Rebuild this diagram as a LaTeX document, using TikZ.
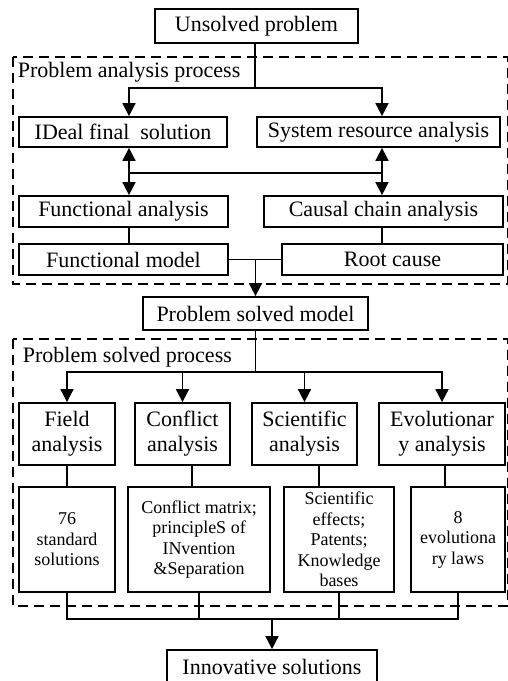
\documentclass[tikz,border=0pt]{standalone}
\usepackage{fontspec}
\setmainfont{Liberation Serif}
\usetikzlibrary{arrows.meta}

\begin{document}
\begin{tikzpicture}[x=1pt,y=-1pt,line width=1.8pt,
  box/.style={draw,line width=1.8pt,inner sep=0pt,align=center,font=\fontsize{22}{25}\selectfont},
  smallbox/.style={box,font=\fontsize{18}{20.5}\selectfont},
  frame/.style={draw,line width=1.5pt,dash pattern=on 10pt off 6pt},
  title/.style={anchor=base west,inner sep=0pt,font=\fontsize{22}{25}\selectfont},
  arr/.style={-{Triangle[width=13pt,length=13pt]}}]
\useasboundingbox (0,0) rectangle (507,681);
\draw[frame] (13,57) rectangle (508,284);
\draw[frame] (13,339) rectangle (508,606);
\node[title] (anatitle) at (17,77) {Problem analysis process};
\node[title] (soltitle) at (22,362) {Problem solved process};
\node[box,minimum width=203pt,minimum height=34pt] at (256.5,26) (unsolved) {Unsolved problem};
\node[box,minimum width=208pt,minimum height=30pt] at (123,132) (ideal) {IDeal final\ \ solution};
\node[box,minimum width=243pt,minimum height=30pt] at (378.5,132) (sysres) {System resource analysis};
\node[box,minimum width=209pt,minimum height=31pt] at (123.5,211.5) (funcana) {Functional analysis};
\node[box,minimum width=239pt,minimum height=31pt] at (383.5,211.5) (causal) {Causal chain analysis};
\node[box,minimum width=209pt,minimum height=31pt] at (123.5,259.5) (funcmodel) {Functional model};
\node[box,minimum width=221pt,minimum height=31pt] at (392.5,259.5) (rootcause) {Root cause};
\node[box,minimum width=225pt,minimum height=33pt] at (255.5,313.5) (psm) {Problem solved model};
\node[box,minimum width=96pt,minimum height=62pt] at (67,434) (field) {Field\\analysis};
\node[box,minimum width=95pt,minimum height=62pt] at (182.5,434) (conflict) {Conflict\\analysis};
\node[box,minimum width=105pt,minimum height=62pt] at (304.5,434) (scientific) {Scientific\\analysis};
\node[box,minimum width=126pt,minimum height=62pt] at (442,434) (evol) {Evolutionar\\y analysis};
\node[smallbox,minimum width=96pt,minimum height=105pt] at (67,539.5) (field2) {76\\standard\\solutions};
\node[smallbox,minimum width=142pt,minimum height=105pt] at (199,539.5) (conflict2) {Conflict matrix;\\principleS of\\INvention\\\&Separation};
\node[smallbox,minimum width=110pt,minimum height=105pt] at (339,539.5) (sci2) {Scientific\\effects;\\Patents;\\Knowledge\\bases};
\node[smallbox,minimum width=94pt,minimum height=105pt] at (458,539.5) (evol2) {8\\evolutiona\\ry laws};
\node[box,minimum width=210pt,minimum height=34pt] at (272,667) (innov) {Innovative solutions};
\coordinate (splitA) at (255,88);
\coordinate (jl) at (129,173);
\coordinate (jr) at (382,173);
\draw (unsolved.south -| splitA) -- (splitA);
\draw[arr] (splitA) -| (ideal.north -| jl);
\draw[arr] (splitA) -| (sysres.north -| jr);
\draw (jl) -- (jr);
\draw[arr] (jl) -- (ideal.south -| jl);
\draw[arr] (jl) -- (funcana.north -| jl);
\draw[arr] (jr) -- (sysres.south -| jr);
\draw[arr] (jr) -- (causal.north -| jr);
\draw (funcana.south -| jl) -- (funcmodel.north -| jl);
\draw (causal.south -| jr) -- (rootcause.north -| jr);
\draw (funcmodel) -- (rootcause);
\draw[arr] (funcmodel.east -| psm.north) -- (psm.north);
\coordinate (splitB) at (255.5,372);
\draw (psm.south) -- (splitB);
\foreach \n in {field,conflict,scientific,evol}
  \draw[arr] (splitB) -| (\n.north);
\coordinate (tieA) at (67,476);
\coordinate (tieB) at (192,476);
\coordinate (tieC) at (319,476);
\coordinate (tieD) at (445,476);
\foreach \a/\b/\t in {field/field2/tieA,conflict/conflict2/tieB,scientific/sci2/tieC,evol/evol2/tieD}
  \draw (\a.south -| \t) -- (\b.north -| \t);
\coordinate (merge) at (272,619);
\foreach \n in {field2,conflict2,sci2,evol2}
  \draw (\n.south) |- (merge);
\draw[arr] (merge) -- (innov.north);
\end{tikzpicture}
\end{document}
